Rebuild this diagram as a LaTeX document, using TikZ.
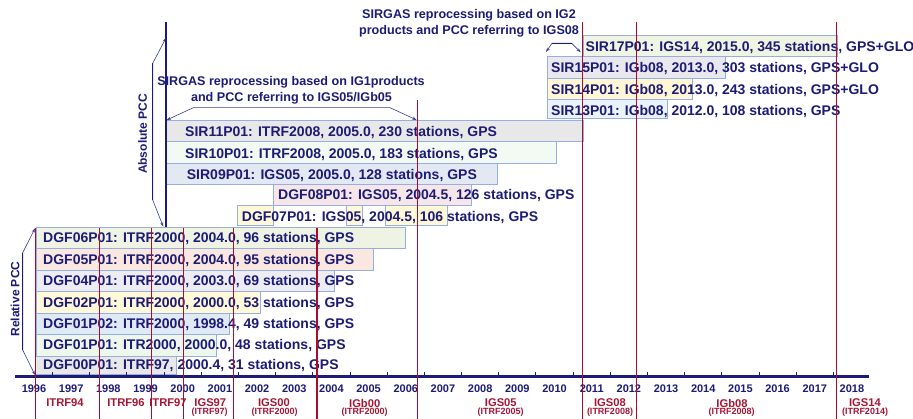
\documentclass[tikz,border=0pt]{standalone}
\usepackage{fontspec}
\setmainfont{Liberation Sans}
\usetikzlibrary{arrows.meta,fit}
\definecolor{navy}{RGB}{28,28,118}
\definecolor{crim}{RGB}{168,22,52}
\definecolor{redline}{RGB}{170,12,45}
\definecolor{boxblue}{RGB}{150,175,225}
\definecolor{brk}{RGB}{55,65,150}
\definecolor{c06}{RGB}{238,243,227}
\definecolor{c05}{RGB}{250,232,224}
\definecolor{c04}{RGB}{236,236,242}
\definecolor{c02}{RGB}{255,248,217}
\definecolor{c01b}{RGB}{224,234,246}
\definecolor{c01a}{RGB}{238,247,236}
\definecolor{c00}{RGB}{232,232,232}
\definecolor{c07}{RGB}{255,248,214}
\definecolor{c08}{RGB}{246,230,234}
\definecolor{c09}{RGB}{227,233,243}
\definecolor{c10}{RGB}{243,249,243}
\definecolor{c11}{RGB}{232,232,232}
\definecolor{c13}{RGB}{234,243,251}
\definecolor{c14}{RGB}{255,246,214}
\definecolor{c15}{RGB}{232,232,238}
\definecolor{c17}{RGB}{240,244,226}
\begin{document}
\begin{tikzpicture}[x=1pt,y=-1pt,
  bx/.style={draw=boxblue, line width=0.8pt, inner sep=0pt, outer sep=0pt},
  lbl/.style={anchor=base west, inner sep=0pt, font=\fontsize{14}{16}\selectfont\bfseries, text=navy},
  note/.style={inner sep=0pt, font=\fontsize{12.6}{15}\selectfont\bfseries, text=navy},
  yr/.style={inner sep=0pt, font=\fontsize{11}{13}\selectfont\bfseries, text=navy},
  frm/.style={inner sep=0pt, font=\fontsize{11.2}{13}\selectfont\bfseries, text=crim},
  sub/.style={inner sep=0pt, font=\fontsize{9}{10}\selectfont\bfseries, text=crim},
  side/.style={inner sep=0pt, rotate=90, font=\fontsize{12}{14}\selectfont\bfseries, text=navy},
  frameline/.style={draw=redline, line width=1.3pt},
  brace/.style={draw=brk, line width=0.6pt, {Stealth[length=4.5pt,width=3pt]}-{Stealth[length=4.5pt,width=3pt]}}
]
\useasboundingbox (0,0) rectangle (913,419);
\fill[white] (0,0) rectangle (913,419);

% ---- boxes ----
\node[bx, fill=c06, fit={(36,227.3) (405,248.7)}] (b06) {};
\node[bx, fill=c05, fit={(36,248.7) (373,270)}] (b05) {};
\node[bx, fill=c04, fit={(36,270) (334,291.7)}] (b04) {};
\node[bx, fill=c02, fit={(36,291.7) (260,313)}] (b02) {};
\node[bx, fill=c01b, fit={(36,313) (229,334.5)}] (b01b) {};
\node[bx, fill=c01a, fit={(36,334.5) (216.7,356)}] (b01a) {};
\node[bx, fill=c00, fit={(35,356) (176,374.5)}] (b00) {};
\node[bx, fill=c07, fit={(237.7,205.5) (273.3,225.5)}] (b07a) {};
\node[bx, fill=c07, fit={(346.7,205.5) (362.7,225.5)}] (b07b) {};
\node[bx, fill=c07, fit={(385.5,205.5) (447,225.5)}] (b07c) {};
\node[bx, fill=c08, fit={(273.3,184.3) (471,205.5)}] (b08) {};
\node[bx, fill=c09, fit={(166,163.3) (497.3,184.3)}] (b09) {};
\node[bx, fill=c10, fit={(166,141.7) (556.7,163.3)}] (b10) {};
\node[bx, fill=c11, fit={(166,120.7) (583,141.7)}] (b11) {};
\node[bx, fill=c13, fit={(547,99.3) (667.5,118.5)}] (b13) {};
\node[bx, fill=c14, fit={(547,78.3) (692.5,99.3)}] (b14) {};
\node[bx, fill=c15, fit={(547,56.7) (725.8,78.3)}] (b15) {};
\node[bx, fill=c17, fit={(583,35) (837,56.7)}] (b17) {};

% ---- labels ----
\node[lbl] (t00) at (43,369.5) {DGF00P01: ITRF97, 2000.4, 31 stations, GPS};
\node[lbl] (t01a) at (43,350) {DGF01P01: ITR2000, 2000.0, 48 stations, GPS};
\node[lbl] (t01b) at (43,329) {DGF01P02: ITRF2000, 1998.4, 49 stations, GPS};
\node[lbl] (t02) at (43,307.5) {DGF02P01: ITRF2000, 2000.0, 53 stations, GPS};
\node[lbl] (t04) at (43,286) {DGF04P01: ITRF2000, 2003.0, 69 stations, GPS};
\node[lbl] (t05) at (43,264.5) {DGF05P01: ITRF2000, 2004.0, 95 stations, GPS};
\node[lbl] (t06) at (43,243) {DGF06P01: ITRF2000, 2004.0, 96 stations, GPS};
\node[lbl] (t07) at (241.7,221.5) {DGF07P01: IGS05, 2004.5, 106 stations, GPS};
\node[lbl] (t08) at (278,200) {DGF08P01: IGS05, 2004.5, 126 stations, GPS};
\node[lbl] (t09) at (186.7,179.5) {SIR09P01: IGS05, 2005.0, 128 stations, GPS};
\node[lbl] (t10) at (185,158.3) {SIR10P01: ITRF2008, 2005.0, 183 stations, GPS};
\node[lbl] (t11) at (185,136.7) {SIR11P01: ITRF2008, 2005.0, 230 stations, GPS};
\node[lbl] (t13) at (551,116) {SIR13P01: IGb08, 2012.0, 108 stations, GPS};
\node[lbl] (t14) at (551,94.5) {SIR14P01: IGb08, 2013.0, 243 stations, GPS+GLO};
\node[lbl] (t15) at (551,73) {SIR15P01: IGb08, 2013.0, 303 stations, GPS+GLO};
\node[lbl] (t17) at (585.5,51.5) {SIR17P01: IGS14, 2015.0, 345 stations, GPS+GLO};

% ---- annotations ----
\node[note] (n2a) at (469,15) {SIRGAS reprocessing based on IG2};
\node[note] (n2b) at (469,31.5) {products and PCC referring to IGS08};
\node[note] (n1a) at (291,82.5) {SIRGAS reprocessing based on IG1products};
\node[note] (n1b) at (291.5,98) {and PCC referring to IGS05/IGb05};
\node[side] (abs) at (142.7,134) {Absolute PCC};
\node[side] (rel) at (15,299) {Relative PCC};

% ---- brackets ----
\coordinate (g2l) at (546,52);
\coordinate (g2r) at (580.7,52.3);
\draw[brace] (g2l) -- (552,43.3) -- (571.7,43.3) -- (g2r);
\draw[navy, line width=1pt] (552,43.3) -- (571.7,43.3);
\coordinate (g1l) at (166.7,120);
\coordinate (g1r) at (416.7,120);
\draw[brace] (g1l) -- (193.3,107.7) -- (390,107.7) -- (g1r);
\coordinate (abt) at (166,38);
\coordinate (abb) at (163.3,226.7);
\draw[brace] (abt) -- (152.7,63.3) -- (152.7,200) -- (abb);
\draw[navy, line width=0.9pt] (152.7,63.3) -- (152.7,200);
\draw[navy, line width=1.3pt] (166,21.7) -- (166,226.7);
\coordinate (rlt) at (35,228.3);
\coordinate (rlb) at (35,375);
\draw[brace] (rlt) -- (22.7,252.7) -- (22.7,350) -- (rlb);
\draw[navy, line width=0.9pt] (22.7,252.7) -- (22.7,350);

% ---- axis ----
\draw[navy, line width=3pt] (15,377) -- (869,377);
\foreach \k in {1,...,22} {
  \draw[navy, line width=0.9pt] ({15.4+37.18*\k},377) -- ({15.4+37.18*\k},372);
}
\foreach \y [count=\k from 0] in {1996,...,2018} {
  \node[yr] at ({15.4+37.18*(\k+0.5)},388.5) {\y};
}

% ---- frame labels ----
\node[frm] (f94) at (65,403) {ITRF94};
\node[frm] (f96) at (126,403) {ITRF96};
\node[frm] (f97) at (168,403) {ITRF97};
\node[frm] (g97) at (210.3,403) {IGS97};
\node[sub] (s97) at (209.7,412.5) {(ITRF97)};
\node[frm] (g00) at (274,403) {IGS00};
\node[sub] (s00) at (274.7,412.5) {(ITRF2000)};
\node[frm] (b00l) at (364.7,403) {IGb00};
\node[sub] (sb00) at (364.7,412.5) {(ITRF2000)};
\node[frm] (g05) at (500.8,403) {IGS05};
\node[sub] (s05) at (500.7,412.5) {(ITRF2005)};
\node[frm] (g08) at (610,403) {IGS08};
\node[sub] (s08) at (610,412.5) {(ITRF2008)};
\node[frm] (gb08) at (732,403) {IGb08};
\node[sub] (sb08) at (731.7,412.5) {(ITRF2008)};
\node[frm] (g14) at (865,403) {IGS14};
\node[sub] (s14) at (865,412.5) {(ITRF2014)};

% ---- red frame change lines ----
\foreach \x/\t in {35.5/228, 99.5/228, 151.7/228, 183.3/228, 233.5/228, 317/228, 417.3/100, 582.7/22, 636.7/22, 836.7/22} {
  \draw[frameline] (\x,\t) -- (\x,419);
}
\end{tikzpicture}
\end{document}
